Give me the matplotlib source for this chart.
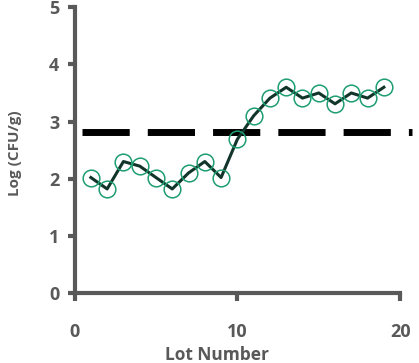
import matplotlib.pyplot as plt

# Data
lots = [1, 2, 3, 4, 5, 6, 7, 8, 9, 10, 11, 12, 13, 14, 15, 16, 17, 18, 19]
log_cfu = [2.02, 1.82, 2.30, 2.22, 2.02, 1.82, 2.10, 2.30, 2.02, 2.69,
           3.10, 3.41, 3.60, 3.41, 3.50, 3.31, 3.50, 3.41, 3.60]
limit_x = [0.43, 20.7]
limit_y = [2.81, 2.81]

plt.rcParams['font.family'] = ['Open Sans', 'DejaVu Sans']
gray = '#595959'

fig = plt.figure(figsize=(4.19, 3.63), dpi=100)
ax = fig.add_axes([0.178, 0.193, 0.777, 0.787])

# limit line (dashed)
ax.plot(limit_x, limit_y, color='black', lw=5, linestyle=(0, (6.8, 2.6)),
        dash_capstyle='butt', clip_on=False, zorder=2)

# lot values
ax.plot(lots, log_cfu, color='#12352b', lw=2.2, zorder=3)
ax.plot(lots, log_cfu, linestyle='none', marker='o', markersize=12,
        markerfacecolor='none', markeredgecolor='#1f9e72',
        markeredgewidth=1.1, zorder=4)

ax.set_xlim(0, 20)
ax.set_ylim(0, 5)
ax.set_xticks([0, 10, 20])
ax.set_yticks([0, 1, 2, 3, 4, 5])

for s in ['top', 'right']:
    ax.spines[s].set_visible(False)
for s in ['left', 'bottom']:
    ax.spines[s].set_color(gray)
    ax.spines[s].set_linewidth(3)

ax.tick_params(axis='y', length=5, width=3, color=gray, pad=6,
               labelsize=13, labelcolor=gray)
ax.tick_params(axis='x', length=6, width=3, color=gray, pad=16,
               labelsize=13, labelcolor=gray)
for lab in ax.get_xticklabels() + ax.get_yticklabels():
    lab.set_fontweight('bold')

ax.set_xlabel('Lot Number', fontsize=12.5, fontweight='bold', color=gray)
ax.set_ylabel('Log (CFU/g)', fontsize=11, fontweight='bold', color=gray)
ax.xaxis.set_label_coords(0.437, -0.185)
ax.yaxis.set_label_coords(-0.16, 0.49)

fig.savefig('out.png', dpi=100)
